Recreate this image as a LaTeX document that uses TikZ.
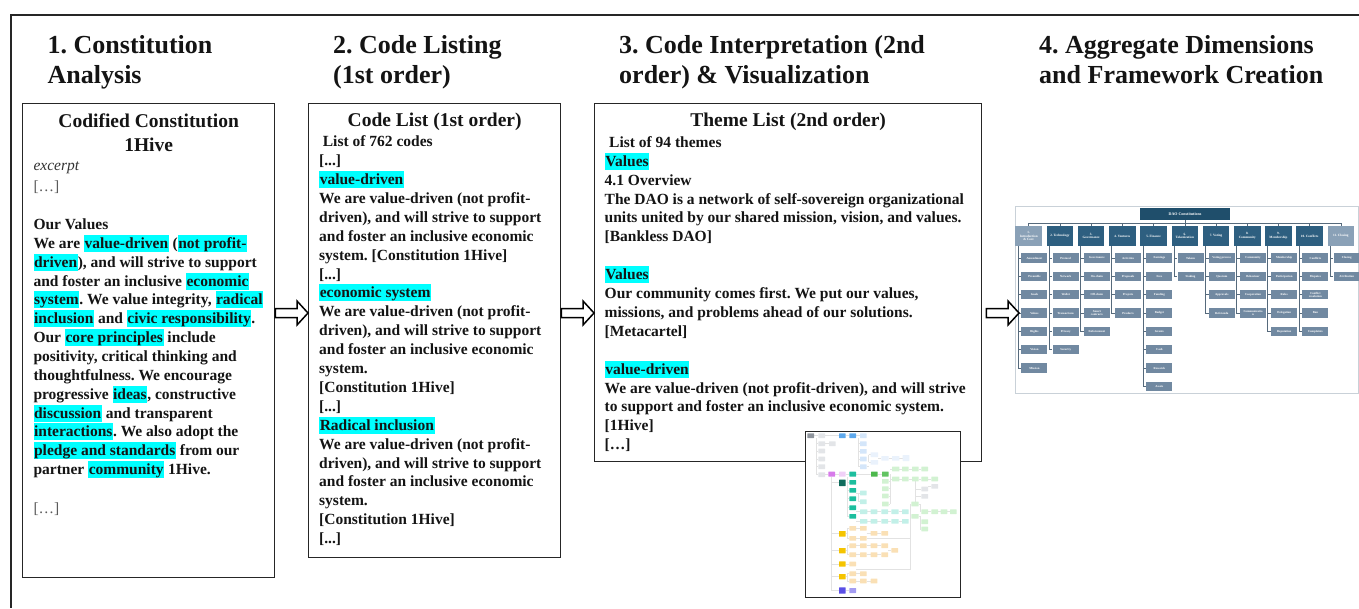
\documentclass[tikz,border=0pt]{standalone}
\usepackage{fontspec}
\setmainfont{Liberation Serif}
\usetikzlibrary{calc}
\frenchspacing
\definecolor{hlc}{HTML}{00FFFF}
\definecolor{ink}{HTML}{141414}
\definecolor{framec}{HTML}{262626}
\definecolor{dots}{HTML}{5A5A5A}
\definecolor{rootc}{HTML}{1F4E6B}
\definecolor{hdrD}{HTML}{2E5F80}
\definecolor{hdrL}{HTML}{8AA1B7}
\definecolor{chdc}{HTML}{7189A1}
\definecolor{lnc}{HTML}{566A7C}
\definecolor{chartframe}{HTML}{C9D1D8}
\definecolor{mmgd}{HTML}{8E949C}
\definecolor{mmgl}{HTML}{E3E5E8}
\definecolor{mmb}{HTML}{5DA8EC}
\definecolor{mmbl}{HTML}{D4E6FA}
\definecolor{mmbx}{HTML}{EAF2FC}
\definecolor{mmp}{HTML}{D77BEA}
\definecolor{mmpl}{HTML}{F0D0F7}
\definecolor{mmtd}{HTML}{0E6B5C}
\definecolor{mmt}{HTML}{1DBE9E}
\definecolor{mmtl}{HTML}{C2F0E8}
\definecolor{mmg}{HTML}{4DB84D}
\definecolor{mmgg}{HTML}{62C462}
\definecolor{mmgn}{HTML}{D2F2D2}
\definecolor{mmo}{HTML}{FAE0B5}
\definecolor{mmy}{HTML}{F5C400}
\definecolor{mmi}{HTML}{5A4FE6}
\definecolor{mmil}{HTML}{A39CF2}
\definecolor{mmline}{HTML}{E2E2E2}
\newcommand\hl[1]{{\setlength{\fboxsep}{0pt}\colorbox{hlc}{\rule[-3.5pt]{0pt}{17pt}\kern0.6pt#1\kern0.6pt}}}
\newcommand\bodyfont{\fontsize{15.5}{18.9}\selectfont\bfseries}
\newcommand\tdots{[.\kern0pt.\kern0pt.]}
\newcommand\textlines[5]{\foreach \tx [count=\i] in {#5} {\node[txt] (#1\i) at (#2,{#3+#4*(\i-1)}) {\tx};}}
\newcommand\blockarrow[2]{\draw[blk] let \p1=(#1), \p2=(#2) in
  (\x1,\y1+4.5pt) -- (\x2-11pt,\y1+4.5pt) -- (\x2-11pt,\y1+12pt) -- (\x2,\y1)
  -- (\x2-11pt,\y1-12pt) -- (\x2-11pt,\y1-4.5pt) -- (\x1,\y1-4.5pt) -- cycle;}
\begin{document}
\begin{tikzpicture}[x=1pt,y=-1pt,
  box/.style={draw=framec, line width=1.3pt, fill=white, inner sep=0pt, anchor=north west},
  txt/.style={anchor=base west, inner sep=0pt, font=\bodyfont, text=ink},
  head/.style={anchor=base west, inner sep=0pt, font=\fontsize{26}{30}\selectfont\bfseries, text=ink},
  btitle/.style={anchor=base, inner sep=0pt, font=\fontsize{19.5}{24}\selectfont\bfseries, text=ink},
  blk/.style={draw=black, line width=1.5pt, fill=white, line join=miter},
  hdr/.style={fill=#1, minimum width=26.5pt, minimum height=20pt, inner sep=0pt, align=center, text=white, font=\fontsize{3.3}{3.8}\selectfont\bfseries},
  chd/.style={fill=chdc, minimum width=26pt, minimum height=9.5pt, inner sep=0pt, align=center, text=white, font=\fontsize{3}{3.4}\selectfont\bfseries},
  chl/.style={draw=lnc, line width=0.6pt},
  mm/.style={rounded corners=0.4pt},
  mml/.style={draw=mmline, line width=0.4pt}]

\useasboundingbox (0,0) rectangle (1359,608);
\fill[white] (0,0) rectangle (1359,608);

% outer frame
\coordinate (fr) at (11,15);
\coordinate (frR) at (1359,15);
\coordinate (frB) at (11,608);
\draw[framec, line width=1.3pt] (frR) -- (fr) -- (frB);

% stage headings
\node[head] (s1a) at (47.5,53.3) {1. Constitution};
\node[head] (s1b) at (47.5,83) {Analysis};
\node[head] (s2a) at (333,53.3) {2. Code Listing};
\node[head] (s2b) at (333,83) {(1st order)};
\node[head] (s3a) at (619,53.3) {3. Code Interpretation (2nd};
\node[head] (s3b) at (619,83) {order) \& Visualization};
\node[head] (s4a) at (1039,53.3) {4. Aggregate Dimensions};
\node[head] (s4b) at (1039,83) {and Framework Creation};

% boxes
\node[box, minimum width=252pt, minimum height=474pt] (b1) at (22,103) {};
\node[box, minimum width=252pt, minimum height=454pt] (b2) at (308,103) {};
\node[box, minimum width=387pt, minimum height=358pt] (b3) at (594,103) {};

% box 1
\node[btitle] (b1t1) at ($(b1.north)+(0,24.7)$) {Codified Constitution};
\node[btitle] (b1t2) at ($(b1.north)+(0,48.7)$) {1Hive};
\node[txt, font=\fontsize{15.5}{18.9}\selectfont\itshape, text=black!80] (b1ex) at (33.3,170) {excerpt};
\node[txt, font=\fontsize{15.5}{18.9}\selectfont, text=dots] (b1d1) at (33.3,191) {[…]};
\textlines{b1l}{33.3}{229.5}{18.85}{{Our Values},
 {We are \hl{value-driven} (\hl{not profit-}},
 {\hl{driven}), and will strive to support},
 {and foster an inclusive \hl{economic}},
 {\hl{system}. We value integrity, \hl{radical}},
 {\hl{inclusion} and \hl{civic responsibility}.},
 {Our \hl{core principles} include},
 {positivity, critical thinking and},
 {thoughtfulness. We encourage},
 {progressive \hl{ideas}, constructive},
 {\hl{discussion} and transparent},
 {\hl{interactions}. We also adopt the},
 {\hl{pledge and standards} from our},
 {partner \hl{community} 1Hive.}}
\node[txt, font=\fontsize{15.5}{18.9}\selectfont, text=dots] (b1d2) at (33.3,513.3) {[…]};

% box 2
\node[btitle] (b2t) at ($(b2.north)+(0,23.7)$) {Code List (1st order)};
\node[txt] (b2h) at (322.7,146.7) {List of 762 codes};
\textlines{b2l}{319}{165.6}{18.9}{{\tdots},
 {\hl{value-driven}},
 {We are value-driven (not profit-},
 {driven), and will strive to support},
 {and foster an inclusive economic},
 {system. [Constitution 1Hive]},
 {\tdots},
 {\hl{economic system}},
 {We are value-driven (not profit-},
 {driven), and will strive to support},
 {and foster an inclusive economic},
 {system.},
 {[Constitution 1Hive]},
 {\tdots},
 {\hl{Radical inclusion}},
 {We are value-driven (not profit-},
 {driven), and will strive to support},
 {and foster an inclusive economic},
 {system.},
 {[Constitution 1Hive]},
 {\tdots}}

% box 3
\node[btitle] (b3t) at ($(b3.north)+(0,23.7)$) {Theme List (2nd order)};
\node[txt] (b3h) at (609,147.3) {List of 94 themes};
\textlines{b3a}{604.5}{166.2}{18.9}{{\hl{Values}},
 {4.1 Overview},
 {The DAO is a network of self-sovereign organizational},
 {units united by our shared mission, vision, and values.},
 {[Bankless DAO]}}
\textlines{b3b}{604.5}{279.6}{18.9}{{\hl{Values}},
 {Our community comes first. We put our values,},
 {missions, and problems ahead of our solutions.},
 {[Metacartel]}}
\textlines{b3c}{604.5}{374.1}{18.9}{{\hl{value-driven}},
 {We are value-driven (not profit-driven), and will strive},
 {to support and foster an inclusive economic system.},
 {[1Hive]},
 {[…]}}

% visualization thumbnail
\node[box, line width=1.5pt, minimum width=155pt, minimum height=166pt] (viz) at (804.5,430.5) {};
\begin{scope}[shift={(790,420)}, scale=1/3]
 \draw[mml] (72,47) -- (85,47) (105,47) -- (147,47) (167,47) -- (178,47) (198,47) -- (210,47);
 \draw[mml] (80,54) -- (80,164) (80,71) -- (85,71) (80,93) -- (85,93) (80,117) -- (85,117) (80,140) -- (85,140) (80,164) -- (85,164);
 \draw[mml] (105,71) -- (117,71);
 \draw[mml] (205,54) -- (205,140) (205,71) -- (210,71) (205,94) -- (210,94) (205,117) -- (210,117) (205,140) -- (210,140);
 \draw[mml] (230,140) -- (236,140) (236,104) -- (236,127) (236,104) -- (242,104) (236,127) -- (242,127) (264,115) -- (274,115) (296,115) -- (306,115) (328,115) -- (338,115);
 \draw[mml] (105,164) -- (115,164) (135,162) -- (147,162) (167,162) -- (178,162) (198,162) -- (243,162) (263,162) -- (276,162);
 \draw[mml] (125,170) -- (125,512) (125,341) -- (147,341) (125,392) -- (147,392) (125,432) -- (147,432) (125,470) -- (147,470) (125,512) -- (147,512) (167,512) -- (178,512) (125,188) -- (147,188);
 \draw[mml] (172,170) -- (172,289) (172,187) -- (178,187) (172,211) -- (178,211) (172,236) -- (178,236) (172,263) -- (178,263) (172,289) -- (178,289);
 \draw[mml] (198,275) -- (210,275) (198,304) -- (210,304) (232,275) -- (242,275) (262,275) -- (274,275) (294,275) -- (304,275) (326,275) -- (336,275) (232,304) -- (242,304) (262,304) -- (274,304) (294,304) -- (304,304) (326,304) -- (336,304);
 \draw[mml] (198,219) -- (210,219) (204,219) -- (204,245) -- (210,245);
 \draw[mml] (300,162) -- (300,252) (296,184) -- (300,184) (296,206) -- (300,206) (296,228) -- (300,228) (296,252) -- (300,252) (300,147) -- (306,147) (328,147) -- (336,147) (356,147) -- (366,147) (386,147) -- (394,147) (300,177) -- (306,177) (328,177) -- (336,177) (356,177) -- (366,177) (386,177) -- (394,177) (414,177) -- (424,177);
 \draw[mml] (376,184) -- (376,245) (376,207) -- (394,207) (376,229) -- (394,229) (414,199) -- (424,199);
 \draw[mml] (386,252) -- (390,252) -- (390,275) -- (394,275) (414,275) -- (424,275) (444,275) -- (452,275) (472,275) -- (480,275) (386,289) -- (390,289) -- (390,327) -- (394,327) (390,305) -- (394,305);
 \draw[mml] (364,252) -- (360,252) -- (360,447) -- (198,447) (230,355) -- (360,355);
 \draw[mml] (167,341) -- (172,341) (172,325) -- (172,355) (172,325) -- (178,325) (172,355) -- (178,355) (198,325) -- (210,325) (198,355) -- (210,355) (230,340) -- (242,340) (262,340) -- (274,340);
 \draw[mml] (167,392) -- (172,392) (172,377) -- (172,404) (172,377) -- (178,377) (172,404) -- (178,404) (198,377) -- (210,377) (230,377) -- (242,377) (262,377) -- (274,377) (198,404) -- (210,404) (230,404) -- (242,404) (262,404) -- (274,404) (294,391) -- (304,391);
 \draw[mml] (167,432) -- (178,432) (167,470) -- (172,470) (172,461) -- (172,483) (172,461) -- (178,461) (172,483) -- (178,483) (198,461) -- (210,461) (198,483) -- (210,483) (230,483) -- (242,483);
 \foreach \col/\a/\b/\c/\d in {
  mmgd/52/40/72/54, mmgl/85/40/105/54, mmgl/85/64/105/78, mmgl/117/64/137/78, mmgl/85/86/105/100, mmgl/85/110/105/124, mmgl/85/133/105/147, mmgl/85/157/105/171,
  mmb/147/40/167/54, mmb/178/40/198/54,
  mmbl/210/40/230/54, mmbl/210/64/230/78, mmbl/210/87/230/101, mmbl/210/110/230/124, mmbl/210/133/230/147,
  mmbx/242/97/264/111, mmbx/242/120/264/134, mmbx/274/108/296/122, mmbx/306/108/328/122, mmbx/338/105/358/123,
  mmp/115/155/135/170, mmpl/147/155/167/170, mmtd/147/179/167/198,
  mmt/178/155/198/170, mmt/178/180/198/194, mmt/178/204/198/218, mmt/178/229/198/243, mmt/178/256/198/270, mmt/178/282/198/296,
  mmtl/210/212/230/226, mmtl/210/238/230/252, mmtl/210/268/232/282, mmtl/242/268/262/282, mmtl/274/268/294/282, mmtl/304/268/326/282, mmtl/336/268/356/282,
  mmtl/210/297/232/311, mmtl/242/297/262/311, mmtl/274/297/294/311, mmtl/304/297/326/311, mmtl/336/297/356/311,
  mmg/243/155/263/170, mmgg/276/155/296/170,
  mmgn/276/177/296/191, mmgn/276/199/296/213, mmgn/276/221/296/235, mmgn/276/245/296/259,
  mmgn/306/140/328/154, mmgn/336/140/356/154, mmgn/366/140/386/154, mmgn/394/140/414/154,
  mmgn/306/170/328/184, mmgn/336/170/356/184, mmgn/366/170/386/184, mmgn/394/170/414/184, mmgn/424/170/444/184,
  mmgl/394/200/414/214, mmgl/424/192/444/206, mmgl/394/222/414/236,
  mmgn/364/245/386/259, mmgn/364/282/386/296,
  mmgn/394/268/414/282, mmgn/424/268/444/282, mmgn/452/268/472/282, mmgn/480/268/500/282, mmgn/394/298/414/312, mmgn/394/320/414/334,
  mmo/178/318/198/332, mmo/210/318/230/332, mmo/178/348/198/362, mmo/210/348/230/362, mmo/242/333/262/347, mmo/274/333/294/347,
  mmo/178/370/198/384, mmo/210/370/230/384, mmo/242/370/262/384, mmo/274/370/294/384,
  mmo/178/397/198/411, mmo/210/397/230/411, mmo/242/397/262/411, mmo/274/397/294/411, mmo/304/384/324/398,
  mmo/178/425/198/439, mmo/178/454/198/468, mmo/210/454/230/468, mmo/178/476/198/490, mmo/210/476/230/490, mmo/242/476/262/490,
  mmy/147/333/167/350, mmy/147/384/167/400, mmy/147/424/167/440, mmy/147/462/167/478,
  mmi/147/502/167/521, mmil/178/504/198/519}
  {\fill[mm, fill=\col] (\a,\b) rectangle (\c,\d);}
\end{scope}

% framework chart
\node[box, draw=chartframe, line width=1pt, minimum width=343pt, minimum height=187pt] (chart) at (1015,206) {};
\node[fill=rootc, minimum width=90pt, minimum height=12pt, inner sep=0pt, text=white, font=\fontsize{4}{4.5}\selectfont\bfseries] (root) at (1185,214) {DAO Constitutions};
\coordinate (busM) at (1185,223);
\coordinate (busL) at (1028.7,223);
\coordinate (busR) at (1340.9,223);
\draw[chl] (root.south) -- (busM);
\draw[chl] (busL) -- (busR);
\foreach \i/\lab/\col in {1/{1.\\Introduction\\\& Core}/hdrL, 2/{2. Technology}/hdrD, 3/{3.\\Governance}/hdrD,
  4/{4. Ventures}/hdrD, 5/{5. Finance}/hdrD, 6/{6.\\Tokenization}/hdrD, 7/{7. Voting}/hdrD,
  8/{8.\\Community}/hdrD, 9/{9.\\Membership}/hdrD, 10/{10. Conflicts}/hdrD, 11/{11. Closing}/hdrL}
{
  \node[hdr=\col] (h\i) at ({1028.7+31.22*(\i-1)},236) {\lab};
  \draw[chl] (h\i.north) -- ++(0,-3);
}
\foreach \cc/\items in {1/{Amendment,Preamble,Goals,Values,Rights,Vision,Mission},
  2/{Protocol,Network,Wallet,Transactions,Privacy,Security},
  3/{Governance,On-chain,Off-chain,{Smart\\contracts},Enforcement},
  4/{Activities,Proposals,Projects,Products},
  5/{Earnings,Fees,Funding,Budget,Grants,Cash,Rewards,Assets},
  6/{Tokens,Staking},
  7/{Voting process,Quorum,Approvals,Referenda},
  8/{Community,Behaviour,Cooperation,{Communicatio\\n}},
  9/{Membership,Participation,Roles,Delegation,Reputation},
  10/{Conflicts,Disputes,{Conflict\\resolution},Ban,Complaints},
  11/{Closing,Attribution}}
{
  \foreach \tx [count=\k] in \items {
    \node[chd] (c\cc-\k) at ({1028.7+31.22*(\cc-1)+5.75},{258+18.33*(\k-1)}) {\tx};
    \draw[chl] ($(h\cc.south west)+(2.7,0)$) |- (c\cc-\k.west);
  }
}

% block arrows
\coordinate (ay) at (0,313);
\blockarrow{b1.east |- ay}{b2.west |- ay}
\blockarrow{b2.east |- ay}{b3.west |- ay}
\coordinate (a3s) at ($(b3.east |- ay)+(4,0)$);
\coordinate (a3e) at ($(chart.west |- ay)+(4,0)$);
\blockarrow{a3s}{a3e}
\end{tikzpicture}
\end{document}
